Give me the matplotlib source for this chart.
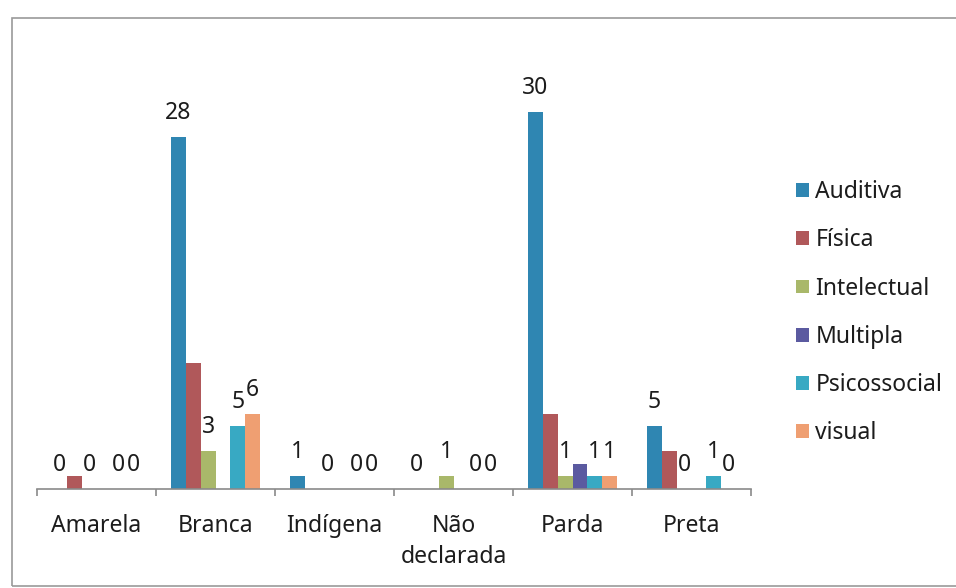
import matplotlib
matplotlib.use("Agg")
import matplotlib.pyplot as plt
import numpy as np
from matplotlib.patches import Rectangle

categories = ["Amarela", "Branca", "Indígena", "Não\ndeclarada", "Parda", "Preta"]
series_names = ["Auditiva", "Física", "Intelectual", "Multipla", "Psicossocial", "visual"]
auditiva = [0, 28, 1, 0, 30, 5]
fisica = [1, 10, 0, 0, 6, 3]
intelectual = [0, 3, 0, 1, 1, 0]
multipla = [0, 0, 0, 0, 2, 0]
psicossocial = [0, 5, 0, 0, 1, 1]
visual = [0, 6, 0, 0, 1, 0]
series_values = [auditiva, fisica, intelectual, multipla, psicossocial, visual]
labelled_series = ["Auditiva", "Intelectual", "Psicossocial", "visual"]

colors = ["#2f86b2", "#b0585a", "#a9b86a", "#5b5aa0", "#38a9c3", "#ef9f72"]

plt.rcParams["font.family"] = ["Noto Sans", "DejaVu Sans"]
text_color = "#1c1c1c"
fs = 16.5

fig = plt.figure(figsize=(9.56, 5.88), dpi=100)
W, H = 956, 588

# chart-area frame (right edge runs past the canvas)
fig.patches.append(Rectangle((12 / W, 1 - 586 / H), (W + 60) / W, (586 - 18) / H,
                             transform=fig.transFigure, fill=False,
                             edgecolor="#9a9a9a", linewidth=1.2, clip_on=False))

ax = fig.add_axes([37 / W, (H - 489) / H, 714 / W, 440 / H])
x = np.arange(len(categories))
bw = 0.125
for i, (name, vals) in enumerate(zip(series_names, series_values)):
    pos = x + (i - 2.5) * bw
    ax.bar(pos, vals, width=bw, color=colors[i], label=name, linewidth=0)
    if name in labelled_series:
        for px_, v in zip(pos, vals):
            ax.annotate(str(v), (px_, v), xytext=(0, 18), textcoords="offset pixels",
                        ha="center", va="baseline", fontsize=fs, color=text_color)

ax.set_xlim(-0.5, 5.5)
ax.set_ylim(0, 35)
for s in ["top", "right", "left"]:
    ax.spines[s].set_visible(False)
ax.spines["bottom"].set_color("#8a8a8a")
ax.spines["bottom"].set_linewidth(1.2)
ax.set_yticks([])
ax.set_xticks(x)
ax.set_xticklabels(categories, fontsize=fs, color=text_color, linespacing=1.4)
ax.tick_params(axis="x", which="major", length=0, pad=18)
ax.set_xticks(np.arange(-0.5, 6, 1), minor=True)
ax.tick_params(axis="x", which="minor", length=5, color="#8a8a8a", width=1.2, direction="out")

leg = ax.legend(loc="upper left", bbox_to_anchor=(796 / W, 1 - 180 / H),
                bbox_transform=fig.transFigure, frameon=False, fontsize=fs,
                handlelength=0.55, handleheight=0.55, handletextpad=0.3,
                labelspacing=1.06, borderaxespad=0, borderpad=0)
for t in leg.get_texts():
    t.set_color(text_color)

fig.savefig("out.png", dpi=100, facecolor="white")
